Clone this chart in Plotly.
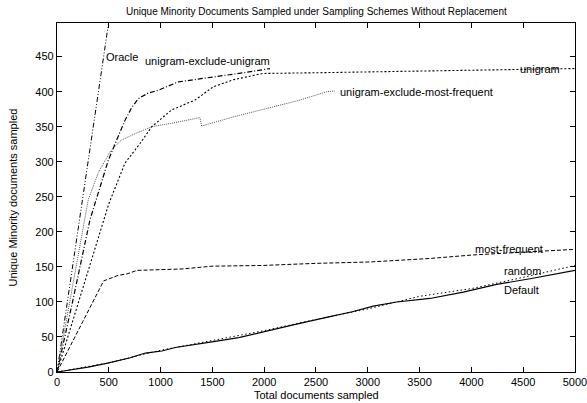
import plotly.graph_objects as go

# ---- data ----
oracle_x = [0, 510]
oracle_y = [0, 510]

uxu_x = [0, 150, 318, 399, 495, 576, 656, 720, 785, 880, 978, 1171, 1525, 1800, 2056]
uxu_y = [0, 100, 217, 255, 302, 331, 359, 377, 390, 398, 402, 414, 421, 427, 433]

uxmf_x = [0, 150, 302, 400, 463, 512, 560, 624, 753, 914, 1107, 1380, 1396, 1702, 2024, 2346, 2603, 2680]
uxmf_y = [0, 125, 246, 285, 302, 314, 322, 331, 340, 350, 355, 363, 351, 364, 376, 388, 400, 401]

uni_x = [0, 250, 447, 500, 656, 801, 914, 1107, 1332, 1509, 1702, 1989, 2500, 3000, 3500, 4000, 4500, 5000]
uni_y = [0, 120, 217, 240, 298, 326, 350, 374, 388, 407, 417, 426, 427, 428, 429, 431, 432, 433]

mf_x = [0, 450, 592, 676, 772, 1207, 1496, 1979, 2494, 2687, 3021, 3600, 4015, 4500, 5000]
mf_y = [0, 130, 138, 140, 145, 147, 151, 152, 155, 156, 157, 162, 167, 171, 175]

rnd_x = [0, 300, 500, 800, 1000, 1500, 2000, 2500, 3000, 3500, 4000, 4500, 5000]
rnd_y = [0, 8, 13, 24, 31, 45, 59, 75, 90, 108, 119, 135, 152]

def_x = [0, 150, 300, 467, 595, 700, 853, 1013, 1142, 1300, 1496, 1754, 1979, 2301, 2635, 2850, 3053,
         3279, 3600, 3922, 4244, 4566, 5000]
def_y = [0, 3, 7, 12, 16, 20, 27, 30, 35, 39, 43, 49, 57, 68, 79, 86, 94, 100, 105, 114, 125, 133, 145]

labels = ["Oracle", "unigram-exclude-unigram", "unigram", "unigram-exclude-most-frequent",
          "most-frequent", "random", "Default"]
label_x = [454, 833, 4450, 2712, 4020, 4292, 4292]
label_y = [450, 444, 433, 400, 175, 144, 117]

x_ticks = [0, 500, 1000, 1500, 2000, 2500, 3000, 3500, 4000, 4500, 5000]
y_ticks = [0, 50, 100, 150, 200, 250, 300, 350, 400, 450]

title = "Unique Minority Documents Sampled under Sampling Schemes Without Replacement"
x_title = "Total documents sampled"
y_title = "Unique Minority documents sampled"

FONT = "Liberation Sans, Arial, sans-serif"

fig = go.Figure()

def add(x, y, color, dash, width=1.0):
    fig.add_trace(go.Scatter(x=x, y=y, mode="lines",
                             line=dict(color=color, dash=dash, width=width),
                             showlegend=False, hoverinfo="skip"))

add(oracle_x, oracle_y, "#000000", "5px,2px,1px,2px,1px,2px")
add(uxu_x, uxu_y, "#000000", "5px,2px,1px,2px", 1.2)
add(uxmf_x, uxmf_y, "#555555", "1px,1px")
add(uni_x, uni_y, "#000000", "2px,2px", 1.1)
add(mf_x, mf_y, "#000000", "4px,2px")
add(rnd_x, rnd_y, "#000000", "1.5px,2.5px")
add(def_x, def_y, "#000000", "solid", 1.1)

for t, lx, ly in zip(labels, label_x, label_y):
    fig.add_annotation(x=lx, y=ly, text=t, showarrow=False, xanchor="left", yanchor="middle",
                       font=dict(family=FONT, size=11, color="#000000"))

fig.add_annotation(xref="paper", yref="paper", x=0.5, y=1.0, yshift=12, text=title, showarrow=False,
                   xanchor="center", yanchor="middle", font=dict(family=FONT, size=10, color="#000000"))
fig.add_annotation(xref="paper", yref="paper", x=0.5, y=0, yshift=-23, text=x_title, showarrow=False,
                   xanchor="center", yanchor="middle", font=dict(family=FONT, size=11, color="#000000"))
fig.add_annotation(xref="paper", yref="paper", x=0, xshift=-45, y=0.5, text=y_title, showarrow=False,
                   textangle=-90, xanchor="center", yanchor="middle",
                   font=dict(family=FONT, size=11, color="#000000"))

axis_common = dict(showline=True, linecolor="#000000", linewidth=1.2, mirror="allticks",
                   ticks="inside", ticklen=5, tickcolor="#000000", showgrid=False, zeroline=False,
                   ticklabeloverflow="allow", automargin=False,
                   tickfont=dict(family=FONT, size=11, color="#000000"))

fig.update_xaxes(range=[0, 5000.5], tickvals=x_ticks, **axis_common)
fig.update_yaxes(range=[0, 498], tickvals=y_ticks, **axis_common)

fig.update_layout(width=587, height=403, margin=dict(l=57, r=12, t=23, b=31, pad=0, autoexpand=False),
                  plot_bgcolor="#ffffff", paper_bgcolor="#ffffff", showlegend=False)

fig.write_html("out.html", config={"displayModeBar": False},
               post_script="document.body.style.margin='0';document.body.style.overflow='hidden';")
